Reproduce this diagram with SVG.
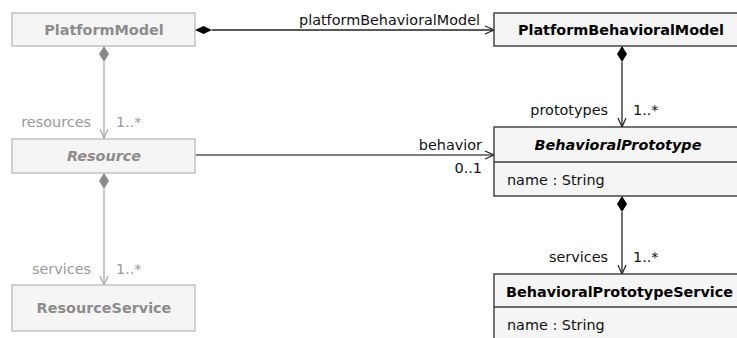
<svg xmlns="http://www.w3.org/2000/svg" width="737" height="338" viewBox="0 0 737 338">
<style>
text{font-family:"DejaVu Sans","Liberation Sans",sans-serif;font-size:14.4px}
.box{fill:#f5f5f5;stroke:#3a3a3a;stroke-width:1.4}
.gbox{fill:#f5f5f5;stroke:#b4b4b4;stroke-width:1.2}
.t{font-weight:bold;fill:#000;text-anchor:middle}
.ts{font-weight:bold;fill:#000;text-anchor:start}
.gt{font-weight:bold;fill:#8c8c8c;text-anchor:middle}
.lbl{fill:#111}
.glbl{fill:#999}
.ln{stroke:#222;stroke-width:1.3;fill:none}
.gln{stroke:#aaa;stroke-width:1.3;fill:none}
.dia{fill:#000;stroke:none}
.gdia{fill:#8a8a8a;stroke:none}
.ah{fill:none;stroke:#222;stroke-width:1.2}
.gah{fill:none;stroke:#aaa;stroke-width:1.2}
</style>
<g id="connectors">
  <path class="ln" d="M212,30 H494"/>
  <polygon class="dia" points="195,30 203.5,26 212,30 203.5,34"/>
  <polyline class="ah" points="485,26 494,30 485,34"/>
  <text class="lbl" x="299" y="25">platformBehavioralModel</text>

  <path class="ln" d="M622,62 V127"/>
  <polygon class="dia" points="622,46 627,54 622,62 617,54"/>
  <polyline class="ah" points="618,118 622,127 626,118"/>
  <text class="lbl" x="608" y="115" text-anchor="end">prototypes</text>
  <text class="lbl" x="633" y="115">1..*</text>

  <path class="ln" d="M622,212 V274"/>
  <polygon class="dia" points="622,196 627,204 622,212 617,204"/>
  <polyline class="ah" points="618,265 622,274 626,265"/>
  <text class="lbl" x="608" y="262" text-anchor="end">services</text>
  <text class="lbl" x="633" y="262">1..*</text>

  <path class="ln" d="M196,155 H494" style="stroke:#555"/>
  <polyline class="ah" points="485,151 494,155 485,159"/>
  <text class="lbl" x="482" y="150" text-anchor="end">behavior</text>
  <text class="lbl" x="482" y="173" text-anchor="end">0..1</text>

  <path class="gln" d="M104,62 V138"/>
  <polygon class="gdia" points="104,46 109,54 104,62 99,54"/>
  <polyline class="gah" points="100,129 104,138 108,129"/>
  <text class="glbl" x="91" y="127" text-anchor="end">resources</text>
  <text class="glbl" x="116" y="127">1..*</text>

  <path class="gln" d="M104,189 V285"/>
  <polygon class="gdia" points="104,173 109,181 104,189 99,181"/>
  <polyline class="gah" points="100,276 104,285 108,276"/>
  <text class="glbl" x="91" y="274" text-anchor="end">services</text>
  <text class="glbl" x="116" y="274">1..*</text>
</g>
<g id="PlatformModel">
  <rect class="gbox" x="12" y="13" width="183" height="33"/>
  <text class="gt" x="104" y="35">PlatformModel</text>
</g>
<g id="PlatformBehavioralModel">
  <rect class="box" x="494" y="13" width="256" height="33"/>
  <text class="t" x="621" y="35">PlatformBehavioralModel</text>
</g>
<g id="Resource">
  <rect class="gbox" x="12" y="139" width="183" height="34"/>
  <text class="gt" x="104" y="161" font-style="italic">Resource</text>
</g>
<g id="BehavioralPrototype">
  <rect class="box" x="494" y="127" width="256" height="69"/>
  <path class="box" d="M494,162 H750"/>
  <text class="t" x="618" y="150" font-style="italic">BehavioralPrototype</text>
  <text class="lbl" x="507" y="185">name : String</text>
</g>
<g id="ResourceService">
  <rect class="gbox" x="12" y="285" width="183" height="46"/>
  <text class="gt" x="104" y="313">ResourceService</text>
</g>
<g id="BehavioralPrototypeService">
  <rect class="box" x="494" y="274" width="256" height="80"/>
  <path class="box" d="M494,307 H750"/>
  <text class="ts" x="506" y="297">BehavioralPrototypeService</text>
  <text class="lbl" x="507" y="330">name : String</text>
</g>
</svg>
